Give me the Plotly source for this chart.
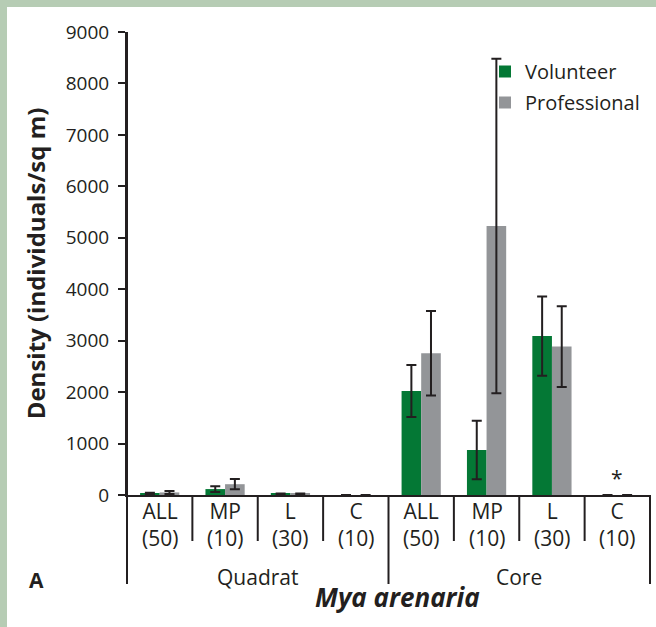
import plotly.graph_objects as go

# ---- data ----
methods = ["ALL", "MP", "L", "C", "ALL", "MP", "L", "C"]
sample_sizes = ["(50)", "(10)", "(30)", "(10)", "(50)", "(10)", "(30)", "(10)"]
groups = ["Quadrat", "Core"]
volunteer = [30, 115, 25, 0, 2020, 875, 3090, 0]
volunteer_err = [15, 55, 5, 0, 505, 570, 770, 0]
professional = [50, 210, 25, 0, 2755, 5230, 2885, 0]
professional_err = [30, 100, 5, 0, 820, 3250, 785, 0]
significance = ["", "", "", "", "", "", "", "*"]
y_ticks = [0, 1000, 2000, 3000, 4000, 5000, 6000, 7000, 8000, 9000]

GREEN = "#047835"
GREY = "#939598"
INK = "#231f20"
FRAME = "#b6ccb4"
FONT = "Open Sans"

W, H = 656, 627
ML, MR, MT, MB = 127, 6, 32, 132
PW = W - ML - MR
PH = H - MT - MB

def py(pix):
    """pixel row -> paper y"""
    return 1 - (pix - MT) / PH

def px(pix):
    """pixel column -> paper x"""
    return (pix - ML) / PW

xs = list(range(len(methods)))

fig = go.Figure()
fig.add_trace(go.Bar(
    x=xs, y=volunteer, name="Volunteer", legendgroup="v",
    marker=dict(color=GREEN, line=dict(width=0)),
    error_y=dict(type="data", array=volunteer_err, color=INK, thickness=2, width=5),
))
fig.add_trace(go.Bar(
    x=xs, y=professional, name="Professional", legendgroup="p",
    marker=dict(color=GREY, line=dict(width=0)),
    error_y=dict(type="data", array=professional_err, color=INK, thickness=2, width=5),
))

shapes = []
n = len(methods)
# green frame strips (left and top)
shapes.append(dict(type="rect", xref="paper", yref="paper",
                   x0=px(-5), x1=px(7), y0=py(H + 5), y1=py(-5),
                   fillcolor=FRAME, line=dict(width=0), layer="below"))
shapes.append(dict(type="rect", xref="paper", yref="paper",
                   x0=px(-5), x1=px(W + 5), y0=py(7), y1=py(-5),
                   fillcolor=FRAME, line=dict(width=0), layer="below"))
# dividers
for k in range(n + 1):
    long_line = k in (0, n // 2, n)
    shapes.append(dict(type="line", xref="paper", yref="paper",
                       x0=k / n, x1=k / n, y0=py(495) if k else 1,
                       y1=py(584) if long_line else py(541),
                       line=dict(color=INK, width=2)))

annotations = []
for i in range(n):
    annotations.append(dict(x=i, y=py(524), xref="x", yref="paper",
                            text=methods[i] + "<br>" + sample_sizes[i], showarrow=False,
                            font=dict(family=FONT, size=21, color=INK), yanchor="middle",
                            align="center"))
    if significance[i]:
        annotations.append(dict(x=i, y=340, xref="x", yref="y", text=significance[i],
                                showarrow=False, font=dict(family=FONT, size=21, color=INK),
                                yanchor="middle"))
for g, name in enumerate(groups):
    annotations.append(dict(x=(n // 2) * g + (n // 2 - 1) / 2, y=py(577), xref="x", yref="paper",
                            text=name, showarrow=False,
                            font=dict(family=FONT, size=21, color=INK), yanchor="middle"))
annotations.append(dict(x=px(397), y=py(597), xref="paper", yref="paper",
                        text="<b><i>Mya arenaria</i></b>", showarrow=False,
                        font=dict(family=FONT, size=26, color=INK, weight=800), yanchor="middle"))
annotations.append(dict(x=px(27), y=py(580), xref="paper", yref="paper",
                        text="<b>A</b>", showarrow=False,
                        font=dict(family=FONT, size=21, color=INK), yanchor="middle"))

fig.update_layout(
    width=W, height=H,
    margin=dict(l=ML, r=MR, t=MT, b=MB, autoexpand=False),
    paper_bgcolor="white", plot_bgcolor="white",
    barmode="group", bargap=0.40, bargroupgap=0,
    font=dict(family=FONT, size=20, color=INK),
    showlegend=True,
    legend=dict(x=px(485), y=py(52), xanchor="left", yanchor="top",
                bgcolor="rgba(0,0,0,0)", font=dict(family=FONT, size=20, color=INK),
                itemwidth=30, tracegroupgap=2),
    xaxis=dict(range=[-0.5, n - 0.5], showticklabels=False, ticks="", showgrid=False,
               zeroline=False, showline=True, linecolor=INK, linewidth=2, fixedrange=True),
    yaxis=dict(range=[0, 9000], tickvals=y_ticks, ticks="outside", ticklen=7, tickwidth=2,
               tickcolor=INK, showgrid=False, zeroline=False, showline=True, linecolor=INK,
               linewidth=2, tickfont=dict(family=FONT, size=19, color=INK),
               ticklabelstandoff=5,
               title=dict(text="Density (individuals/sq m)", standoff=13,
                          font=dict(family=FONT, size=24, color=INK, weight="bold")),
               automargin=False),
    shapes=shapes, annotations=annotations,
)

fig.write_html("out.html", config={"displayModeBar": False},
               post_script="document.body.style.margin='0';")
